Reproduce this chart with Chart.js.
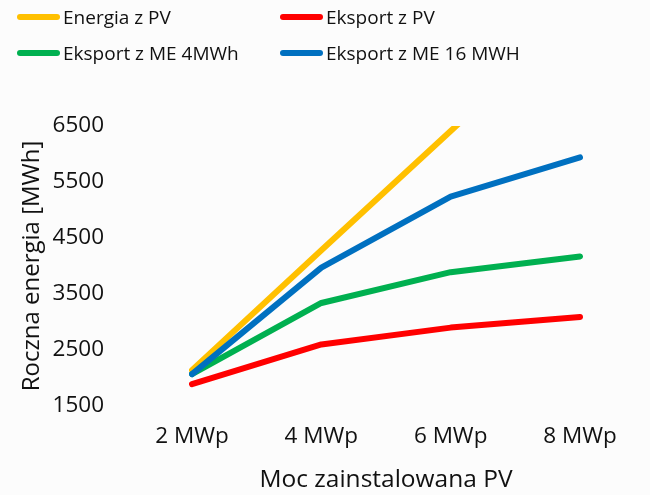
<!DOCTYPE html>
<html>
<head>
<meta charset="utf-8">
<script src="https://cdn.jsdelivr.net/npm/chart.js@4.4.1/dist/chart.umd.min.js"></script>
<style>
    body { margin: 0; background: #fcfcfc; }
    #wrap { position: relative; width: 650px; height: 495px; }
    #legend { position: absolute; left: 0; top: 0; width: 650px; height: 75px; }
    .item { position: absolute; display: flex; align-items: center; height: 24px;
            font-family: "Open Sans", sans-serif; font-size: 19px; color: #111; }
    .swatch { width: 43px; height: 6px; border-radius: 3px; margin-right: 3px; }
</style>
</head>
<body>
<div id="wrap">
    <canvas id="chart" width="650" height="495"></canvas>
    <div id="legend"></div>
</div>
<script>
const categories = ['2 MWp', '4 MWp', '6 MWp', '8 MWp'];
const energiaPV = [2140, 4280, 6410, 8550];
const eksportPV = [1890, 2600, 2900, 3090];
const eksportME4 = [2070, 3340, 3890, 4170];
const eksportME16 = [2070, 3970, 5240, 5940];
const yTicks = [1500, 2500, 3500, 4500, 5500, 6500];

const fontFamily = '"Open Sans", sans-serif';

function makeSet(label, data, color, order) {
    return {
        label: label,
        data: data,
        borderColor: color,
        backgroundColor: color,
        borderWidth: 6,
        borderCapStyle: 'round',
        borderJoinStyle: 'round',
        pointRadius: 0,
        tension: 0,
        order: order
    };
}

const chart = new Chart(document.getElementById('chart'), {
    type: 'line',
    data: {
        labels: categories,
        datasets: [
            makeSet('Energia z PV', energiaPV, '#FFC000', 2),
            makeSet('Eksport z PV', eksportPV, '#FF0000', 3),
            makeSet('Eksport z ME 4MWh', eksportME4, '#00B050', 1),
            makeSet('Eksport z ME 16 MWH', eksportME16, '#0070C0', 0)
        ]
    },
    options: {
        responsive: false,
        animation: false,
        layout: { padding: { top: 126, right: 70, left: 0, bottom: 0 } },
        plugins: {
            legend: { display: false },
            tooltip: { enabled: false }
        },
        scales: {
            x: {
                grid: { display: false, drawTicks: false },
                border: { display: false },
                ticks: { color: '#111', padding: 17, font: { family: fontFamily, size: 22.5 } },
                title: {
                    display: true,
                    text: 'Moc zainstalowana PV',
                    color: '#111',
                    font: { family: fontFamily, size: 24.5 },
                    padding: { top: 0, bottom: 0 }
                },
                afterFit: function(scale) { scale.height = 89; }
            },
            y: {
                min: 1500,
                max: 6500,
                afterBuildTicks: function(scale) {
                    scale.ticks = yTicks.map(v => ({ value: v }));
                },
                grid: { display: false, drawTicks: false },
                border: { display: false },
                ticks: {
                    color: '#111',
                    padding: 88,
                    font: { family: fontFamily, size: 22.5 },
                    callback: function(value) { return String(value); }
                },
                title: {
                    display: true,
                    text: 'Roczna energia [MWh]',
                    color: '#111',
                    font: { family: fontFamily, size: 24 },
                    padding: { top: 18, bottom: 0 }
                },
                afterFit: function(scale) {
                    // wide gap between labels and plot must not push the plot up
                    scale.width = 192;
                    scale.paddingTop = 0;
                    scale.paddingBottom = 0;
                }
            }
        }
    }
});

// legend in two columns, same order as the reference
const legendBox = document.getElementById('legend');
chart.data.datasets.forEach((ds, i) => {
    const item = document.createElement('div');
    item.className = 'item';
    item.style.left = (17 + (i % 2) * 263) + 'px';
    item.style.top = (5 + Math.floor(i / 2) * 36) + 'px';
    item.innerHTML = `<span class="swatch" style="background:${ds.borderColor}"></span><span>${ds.label}</span>`;
    legendBox.appendChild(item);
});
</script>
</body>
</html>
